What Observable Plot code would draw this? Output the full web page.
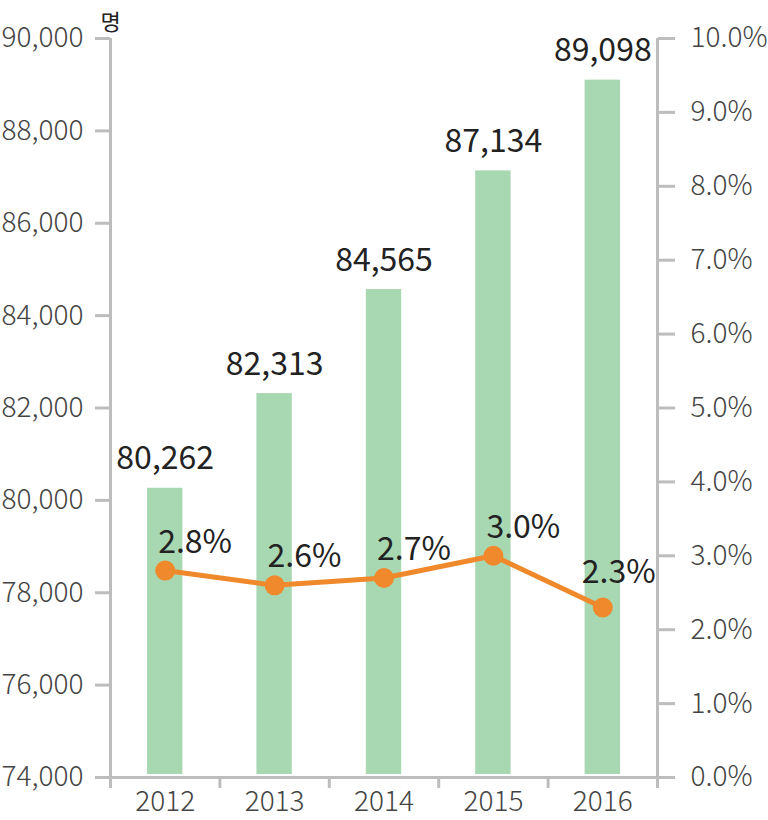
<!DOCTYPE html>
<html><head><meta charset="utf-8">
<script src="https://cdn.jsdelivr.net/npm/d3@7"></script>
<script src="https://cdn.jsdelivr.net/npm/@observablehq/plot@0.6"></script>
<style>
body{margin:0;background:#fff;}
#chart svg{overflow:visible;}
</style></head><body><div id="chart"></div>
<script>
const years = ["2012", "2013", "2014", "2015", "2016"];
const population = [80262, 82313, 84565, 87134, 89098];
const rates = [2.8, 2.6, 2.7, 3.0, 2.3];
const yTicks = [74000, 76000, 78000, 80000, 82000, 84000, 86000, 88000, 90000];
const rateTicks = [0, 1, 2, 3, 4, 5, 6, 7, 8, 9, 10];
const unitLabel = "명";

const yMin = 74000, yMax = 90000;
const rateToY = r => yMin + r / 10 * (yMax - yMin);
const yToRate = v => (v - yMin) / (yMax - yMin) * 10;
const data = years.map((y, i) => ({i, year: y, pop: population[i], rate: rates[i]}));
const cx = d => d.i + 0.5;
const fmt = d3.format(",");

const axisColor = "#bdbdbd";
const labelColor = "#444";
const valueColor = "#222";
const font = "'Noto Sans CJK KR', 'Noto Sans', sans-serif";

const chart = Plot.plot({
  width: 768, height: 820,
  marginLeft: 110, marginRight: 111, marginTop: 38, marginBottom: 43,
  style: {fontFamily: font, background: "white", overflow: "visible"},
  x: {domain: [0, years.length], axis: null},
  y: {domain: [yMin, yMax], axis: null},
  marks: [
    Plot.rectY(data, {x1: "i", x2: d => d.i + 1, y1: yMin, y2: "pop", fill: "#a8d8b2", insetLeft: 37, insetRight: 37, insetBottom: 3}),
    // axis lines
    Plot.ruleX([0, years.length], {y1: yMin, y2: yMax, stroke: axisColor, strokeWidth: 3}),
    Plot.ruleY([yMin], {stroke: axisColor, strokeWidth: 3}),
    // left ticks + labels
    Plot.axisY({anchor: "left", label: null, ticks: yTicks, text: null, tickSize: 15, color: axisColor, strokeWidth: 3}),
    Plot.axisY({anchor: "left", label: null, ticks: yTicks, tickFormat: fmt, tickSize: 0, tickPadding: 27, fontSize: 28, fontWeight: 300, color: labelColor}),
    // right ticks + labels
    Plot.axisY({anchor: "right", label: null, ticks: rateTicks.map(rateToY), text: null, tickSize: 17, color: axisColor, strokeWidth: 3}),
    Plot.axisY({anchor: "right", label: null, ticks: rateTicks.map(rateToY), tickFormat: v => yToRate(v).toFixed(1) + "%", tickSize: 0, tickPadding: 33, fontSize: 28, fontWeight: 300, color: labelColor}),
    // bottom ticks
    Plot.axisX({anchor: "bottom", label: null, ticks: d3.range(0, years.length + 1), text: null, tickSize: 11, color: axisColor, strokeWidth: 3}),
    Plot.text(data, {x: cx, y: yMin, text: "year", dy: 33, lineAnchor: "bottom", fontSize: 28, fontWeight: 300, fill: labelColor}),
    // bar values
    Plot.text(data, {x: cx, y: "pop", text: d => fmt(d.pop), dy: -19, lineAnchor: "bottom", fontSize: 32, fill: valueColor}),
    // rate line
    Plot.line(data, {x: cx, y: d => rateToY(d.rate), stroke: "#f0892b", strokeWidth: 5}),
    Plot.dot(data, {x: cx, y: d => rateToY(d.rate), r: 10, fill: "#f0892b"}),
    Plot.text(data.filter(d => d.year !== "2016"), {x: cx, y: d => rateToY(d.rate), text: d => d.rate.toFixed(1) + "%", textAnchor: "start", dx: -7, dy: -18, lineAnchor: "bottom", fontSize: 32, fill: valueColor}),
    Plot.text(data.filter(d => d.year === "2016"), {x: cx, y: d => rateToY(d.rate), text: d => d.rate.toFixed(1) + "%", textAnchor: "start", dx: -21, dy: -25, lineAnchor: "bottom", fontSize: 32, fill: valueColor}),
    // unit
    Plot.text([unitLabel], {x: 0, y: yMax, text: d => d, dy: -9, lineAnchor: "bottom", fontSize: 22, fill: valueColor})
  ]
});
document.getElementById("chart").appendChild(chart);
</script>
</body></html>
